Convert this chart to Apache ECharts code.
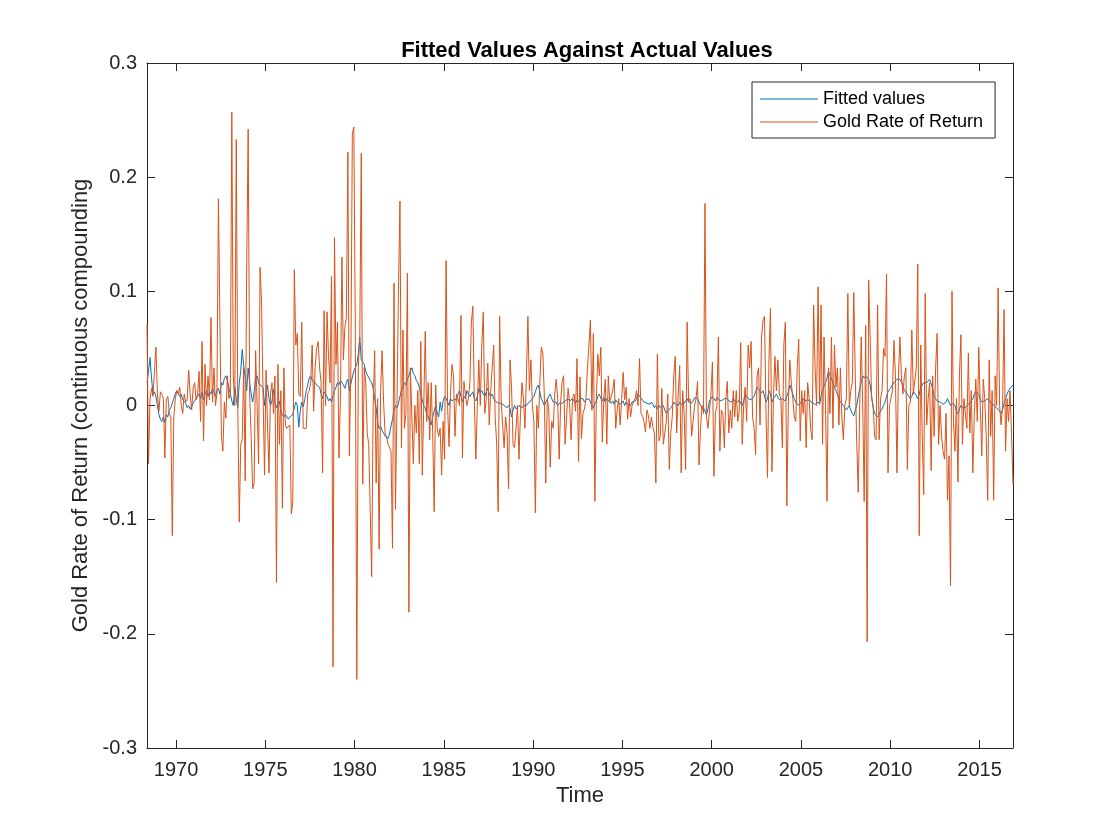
<!DOCTYPE html>
<html>
<head>
<meta charset="utf-8">
<title>Fitted Values Against Actual Values</title>
<script src="https://cdn.jsdelivr.net/npm/echarts@6/dist/echarts.min.js"></script>
<style>
  html, body { margin: 0; padding: 0; background: #fff; }
  #chart { width: 1120px; height: 840px; }
</style>
</head>
<body>
<div id="chart"></div>
<script>
// monthly series, first point at 1968 + 4.5/12, one row per 12 months
const firstMonth = 1968.375;

const goldReturns = [
  0.071, -0.051, 0.005, 0.015, 0.008, 0.030, 0.051, 0.010, -0.005, 0.012, 0.010, 0.006,
  -0.046, 0.005, 0.008, -0.007, -0.010, -0.114, -0.010, 0.005, 0.013, 0.010, 0.016, 0.000,
  -0.007, 0.010, 0.003, 0.005, 0.031, 0.010, -0.004, 0.015, 0.020, 0.005, 0.010, 0.030,
  -0.014, 0.056, -0.031, 0.036, 0.000, 0.026, 0.005, 0.077, 0.003, 0.033, 0.000, 0.010,
  0.181, 0.073, -0.027, -0.040, 0.003, -0.011, 0.026, 0.006, 0.010, 0.257, 0.026, 0.000,
  0.233, 0.000, -0.102, -0.034, -0.030, 0.033, -0.066, 0.124, 0.242, 0.010, -0.027, -0.073,
  -0.068, 0.048, 0.000, -0.051, 0.121, 0.090, 0.010, -0.061, 0.031, -0.017, -0.059, 0.010,
  0.020, -0.007, 0.026, -0.155, 0.036, -0.034, 0.013, -0.090, 0.033, -0.017, -0.020, -0.020,
  -0.017, -0.095, -0.084, 0.119, 0.053, 0.063, 0.010, 0.008, 0.073, -0.020, -0.020, -0.020,
  0.010, 0.013, 0.020, 0.053, -0.005, 0.033, 0.050, 0.056, 0.033, 0.020, -0.059, 0.083,
  0.000, 0.082, 0.043, 0.020, 0.113, -0.229, 0.147, 0.036, 0.073, -0.046, 0.006, 0.130,
  0.040, 0.069, 0.077, 0.222, -0.044, 0.033, 0.238, 0.244, 0.066, -0.240, 0.033, 0.060,
  0.221, -0.069, 0.033, 0.020, -0.024, -0.034, -0.034, -0.150, 0.000, 0.048, -0.068, 0.006,
  -0.126, 0.013, 0.048, 0.003, -0.024, -0.027, -0.034, -0.034, -0.040, -0.125, 0.107, -0.091,
  0.000, 0.100, 0.179, -0.037, 0.066, -0.020, -0.007, 0.116, -0.181, 0.033, 0.033, -0.051,
  0.000, -0.024, 0.013, -0.051, 0.056, -0.061, 0.000, 0.065, -0.014, 0.020, -0.030, 0.020,
  -0.024, -0.093, 0.018, -0.020, -0.027, -0.020, -0.061, -0.014, -0.047, 0.127, 0.000, -0.036,
  0.013, 0.036, 0.026, -0.027, 0.010, 0.006, 0.000, 0.079, -0.046, 0.021, 0.010, 0.000,
  0.006, 0.020, 0.073, 0.087, 0.003, -0.047, 0.000, 0.040, 0.000, 0.053, 0.082, -0.007,
  0.006, 0.037, -0.017, 0.013, 0.033, 0.053, -0.010, -0.034, -0.093, 0.078, 0.006, -0.017,
  -0.037, -0.010, -0.024, -0.073, 0.040, 0.016, -0.034, -0.037, -0.020, 0.000, -0.047, -0.007,
  0.020, 0.006, -0.020, 0.026, 0.078, 0.013, 0.040, 0.000, -0.014, -0.094, 0.000, -0.020,
  0.020, 0.051, 0.046, 0.010, -0.068, 0.006, -0.004, -0.054, -0.014, -0.020, 0.010, 0.023,
  0.006, -0.047, 0.003, 0.021, 0.026, -0.034, -0.010, 0.015, 0.003, -0.030, 0.006, 0.010,
  -0.005, 0.041, -0.049, 0.025, -0.029, -0.007, -0.003, 0.006, 0.033, 0.053, 0.075, -0.004,
  0.063, -0.084, 0.006, 0.045, 0.026, 0.051, -0.032, 0.006, 0.023, -0.034, 0.026, 0.003,
  0.003, 0.013, 0.023, -0.020, -0.004, 0.006, -0.017, 0.006, 0.029, 0.005, 0.016, -0.012,
  0.006, -0.010, 0.000, 0.003, 0.006, 0.013, 0.000, 0.041, -0.007, -0.009, -0.014, -0.023,
  -0.004, -0.009, -0.020, -0.010, -0.019, -0.024, -0.068, 0.045, -0.031, -0.027, 0.015, -0.034,
  -0.024, -0.014, 0.010, -0.056, -0.024, -0.010, 0.026, 0.043, -0.024, 0.010, 0.035, -0.059,
  0.013, -0.007, -0.056, 0.073, 0.003, 0.006, -0.027, -0.014, 0.000, 0.006, 0.021, -0.052,
  -0.020, 0.000, -0.007, 0.177, -0.010, -0.020, -0.020, 0.010, 0.038, -0.062, -0.007, 0.000,
  0.060, -0.040, -0.004, -0.007, -0.037, 0.006, 0.021, -0.024, -0.004, -0.020, 0.013, -0.010,
  0.013, -0.014, -0.005, 0.055, -0.034, 0.000, 0.016, -0.014, 0.053, 0.033, 0.056, -0.010,
  -0.020, -0.043, 0.026, 0.033, -0.017, 0.060, 0.075, 0.078, -0.007, -0.063, 0.040, 0.085,
  -0.058, 0.006, 0.043, 0.013, 0.040, 0.010, 0.006, -0.037, 0.053, 0.073, -0.088, 0.000,
  0.040, 0.020, 0.006, -0.010, -0.014, 0.033, 0.058, -0.031, 0.013, -0.007, 0.013, -0.037,
  0.020, 0.006, -0.020, -0.030, 0.088, 0.033, 0.000, 0.104, 0.003, 0.088, -0.034, 0.060,
  0.000, -0.084, 0.033, -0.007, 0.060, -0.020, 0.053, 0.016, 0.033, -0.017, 0.033, -0.010,
  -0.030, 0.000, 0.006, 0.098, 0.000, 0.013, 0.020, 0.099, 0.026, -0.034, -0.076, 0.000,
  0.060, 0.000, -0.084, 0.070, -0.207, 0.110, 0.060, 0.006, 0.000, -0.027, -0.030, 0.088,
  -0.030, 0.006, 0.013, 0.050, 0.043, 0.115, -0.059, 0.000, 0.000, 0.013, 0.057, 0.026,
  -0.059, 0.026, 0.060, 0.026, 0.010, 0.026, 0.033, -0.056, 0.000, 0.003, 0.066, 0.010,
  0.010, 0.033, 0.124, -0.114, 0.053, -0.027, -0.078, 0.098, -0.017, 0.006, 0.020, -0.057,
  0.026, -0.027, 0.033, 0.063, -0.034, 0.000, -0.027, -0.040, -0.047, -0.007, -0.083, -0.044,
  -0.158, 0.100, -0.014, -0.040, 0.006, -0.067, 0.026, 0.062, -0.034, 0.006, 0.006, -0.020,
  0.046, -0.024, 0.013, -0.059, -0.007, 0.023, -0.014, 0.051, 0.000, -0.044, 0.023, 0.006,
  -0.027, -0.083, 0.040, -0.027, 0.013, -0.083, 0.026, 0.000, 0.103, 0.000, -0.017, 0.000,
  0.084, -0.040, 0.006, -0.014, 0.013, -0.024, -0.069
];

const fittedValues = [
  0.020, 0.030, 0.042, 0.025, 0.010, 0.012, 0.008, 0.000, -0.008, -0.012, -0.014, -0.010,
  -0.015, -0.008, -0.010, -0.004, -0.002, 0.002, 0.006, 0.010, 0.013, 0.012, 0.008, 0.010,
  0.005, 0.004, 0.002, -0.002, 0.000, -0.003, -0.001, 0.002, 0.004, 0.006, 0.008, 0.010,
  0.006, 0.012, 0.005, 0.010, 0.013, 0.008, 0.012, 0.010, 0.015, 0.012, 0.008, 0.013,
  0.015, 0.010, 0.020, 0.018, 0.024, 0.026, 0.022, 0.016, 0.010, 0.004, 0.000, 0.016,
  0.006, -0.002, 0.020, 0.030, 0.049, 0.035, 0.025, 0.013, 0.033, 0.020, 0.010, 0.003,
  0.012, 0.024, 0.026, 0.020, 0.018, 0.019, 0.016, 0.000, 0.010, 0.018, 0.006, 0.000,
  0.004, 0.014, 0.003, -0.002, 0.002, 0.004, -0.005, -0.008, -0.010, -0.008, -0.010, -0.012,
  -0.010, -0.010, -0.008, -0.002, 0.003, 0.000, -0.019, -0.005, 0.003, -0.001, 0.005, 0.013,
  0.018, 0.024, 0.026, 0.022, 0.023, 0.020, 0.018, 0.017, 0.016, 0.010, 0.006, 0.012,
  0.013, 0.008, 0.004, 0.006, 0.003, 0.008, 0.013, 0.016, 0.020, 0.018, 0.022, 0.023,
  0.018, 0.015, 0.020, 0.023, 0.013, 0.013, 0.025, 0.030, 0.031, 0.036, 0.045, 0.060,
  0.040, 0.038, 0.036, 0.030, 0.027, 0.026, 0.022, 0.020, 0.015, 0.006, -0.002, -0.015,
  -0.020, -0.018, -0.022, -0.024, -0.027, -0.028, -0.029, -0.025, -0.018, -0.012, -0.004, 0.000,
  -0.002, 0.002, 0.008, 0.013, 0.016, 0.020, 0.018, 0.023, 0.026, 0.030, 0.033, 0.028,
  0.026, 0.022, 0.020, 0.016, 0.010, 0.005, 0.000, -0.002, -0.008, -0.010, -0.014, -0.017,
  -0.010, -0.005, 0.000, -0.006, -0.010, 0.003, -0.005, 0.004, 0.008, 0.006, 0.003, 0.000,
  0.006, 0.004, 0.003, 0.006, 0.004, 0.010, 0.013, 0.008, 0.003, 0.008, 0.006, 0.013,
  0.010, 0.008, 0.010, 0.012, 0.006, 0.004, 0.008, 0.015, 0.011, 0.013, 0.010, 0.008,
  0.012, 0.015, 0.010, 0.008, 0.010, 0.006, 0.004, 0.003, 0.002, 0.001, 0.002, 0.003,
  0.000, 0.001, -0.002, 0.000, -0.003, -0.010, -0.004, 0.000, -0.003, -0.002, 0.000, -0.001,
  -0.002, 0.000, -0.001, 0.000, 0.002, 0.003, 0.004, 0.006, 0.008, 0.012, 0.016, 0.018,
  0.012, 0.006, 0.003, 0.000, 0.003, 0.005, 0.008, 0.010, 0.006, 0.003, 0.004, 0.003,
  0.000, 0.002, 0.001, 0.002, 0.003, 0.004, 0.005, 0.006, 0.004, 0.003, 0.006, 0.004,
  0.002, 0.005, 0.003, 0.006, 0.005, 0.006, 0.003, 0.005, 0.004, 0.006, 0.003, 0.000,
  -0.002, 0.002, 0.004, 0.008, 0.010, 0.006, 0.004, 0.007, 0.003, 0.006, 0.004, 0.005,
  0.002, 0.004, 0.001, 0.005, 0.003, 0.004, 0.001, 0.002, 0.004, 0.000, 0.003, 0.001,
  0.002, 0.000, 0.003, 0.002, 0.004, 0.006, 0.010, 0.008, 0.009, 0.005, 0.003, 0.004,
  0.002, 0.003, 0.001, 0.003, 0.001, -0.002, 0.000, -0.003, 0.000, -0.002, -0.003, 0.000,
  -0.004, -0.007, -0.005, -0.006, -0.002, 0.000, 0.003, 0.001, 0.002, 0.000, 0.003, 0.001,
  0.000, 0.002, 0.004, 0.006, 0.003, 0.004, 0.002, 0.004, 0.007, 0.008, 0.006, 0.003,
  0.000, 0.000, -0.002, -0.005, -0.008, -0.003, 0.004, 0.006, 0.008, 0.006, 0.004, 0.007,
  0.005, 0.006, 0.004, 0.005, 0.006, 0.005, 0.006, 0.004, 0.005, 0.003, 0.006, 0.004,
  0.005, 0.003, 0.005, 0.002, 0.000, 0.004, 0.010, 0.008, 0.006, 0.007, 0.005, 0.006,
  0.008, 0.012, 0.016, 0.014, 0.013, 0.011, 0.013, 0.008, 0.003, 0.006, 0.013, 0.010,
  0.003, 0.006, 0.008, 0.010, 0.007, 0.005, 0.004, 0.006, 0.005, 0.004, 0.008, 0.012,
  0.018, 0.014, 0.010, 0.006, 0.003, 0.002, 0.000, 0.002, 0.004, 0.006, 0.004, 0.003,
  0.005, 0.006, 0.004, 0.002, 0.003, 0.001, 0.002, 0.003, 0.001, 0.008, 0.013, 0.017,
  0.020, 0.024, 0.030, 0.027, 0.023, 0.020, 0.016, 0.013, 0.010, 0.006, 0.003, 0.002,
  0.000, -0.002, -0.004, -0.002, 0.000, -0.004, -0.007, -0.009, -0.004, 0.000, 0.008, 0.015,
  0.020, 0.026, 0.024, 0.026, 0.025, 0.023, 0.018, 0.008, -0.002, -0.007, -0.008, -0.010,
  -0.009, -0.005, -0.003, 0.000, 0.003, 0.008, 0.012, 0.014, 0.016, 0.018, 0.020, 0.021,
  0.023, 0.022, 0.023, 0.022, 0.018, 0.013, 0.012, 0.010, 0.008, 0.006, 0.008, 0.012,
  0.013, 0.009, 0.006, 0.010, 0.016, 0.018, 0.020, 0.019, 0.020, 0.021, 0.023, 0.022,
  0.015, 0.008, 0.006, 0.004, 0.003, 0.003, 0.003, 0.001, 0.000, 0.003, 0.006, 0.003,
  0.000, 0.002, 0.003, 0.000, -0.005, -0.007, -0.003, 0.000, -0.002, -0.003, -0.002, 0.000,
  0.000, 0.002, 0.003, 0.006, 0.010, 0.012, 0.013, 0.010, 0.005, 0.003, 0.003, 0.004,
  0.005, 0.006, 0.004, 0.003, 0.002, 0.000, -0.001, -0.002, -0.003, -0.005, -0.007, -0.004,
  0.002, 0.006, 0.010, 0.013, 0.015, 0.016, 0.018
];

const yearTicks = [1970, 1975, 1980, 1985, 1990, 1995, 2000, 2005, 2010, 2015];

const axisColor = '#262626';
const lastMonth = firstMonth + (goldReturns.length - 1) / 12;

function toPairs(values) {
  return values.map((v, i) => [firstMonth + i / 12, v]);
}

const chart = echarts.init(document.getElementById('chart'), null, { renderer: 'canvas' });

const xCommon = {
  type: 'value',
  min: firstMonth,
  max: lastMonth,
  splitLine: { show: false },
  axisLine: { show: true, onZero: false, lineStyle: { color: axisColor, width: 1 } },
  axisTick: { show: true, inside: true, length: 8, customValues: yearTicks, lineStyle: { color: axisColor } }
};

const yCommon = {
  type: 'value',
  min: -0.3,
  max: 0.3,
  interval: 0.1,
  splitLine: { show: false },
  axisLine: { show: true, onZero: false, lineStyle: { color: axisColor, width: 1 } },
  axisTick: { show: true, inside: true, length: 8, lineStyle: { color: axisColor } }
};

chart.setOption({
  animation: false,
  backgroundColor: '#fff',
  textStyle: { fontFamily: 'Liberation Sans, Arial, Helvetica, sans-serif' },
  title: {
    text: 'Fitted Values Against Actual Values',
    left: 582,
    top: 35,
    textAlign: 'center',
    textStyle: { fontSize: 22, fontWeight: 'bold', color: '#000' }
  },
  legend: {
    orient: 'vertical',
    left: 752,
    top: 82,
    padding: [8, 12, 7, 8],
    itemGap: 5,
    itemWidth: 58,
    itemHeight: 1,
    icon: 'rect',
    borderColor: '#262626',
    borderWidth: 1,
    backgroundColor: '#fff',
    textStyle: { fontSize: 18, color: '#000' },
    data: ['Fitted values', 'Gold Rate of Return']
  },
  grid: {
    left: 147,
    right: 107,
    top: 63,
    bottom: 92,
    containLabel: false,
    outerBoundsMode: 'none'
  },
  xAxis: [
    Object.assign({}, xCommon, {
      position: 'bottom',
      name: 'Time',
      nameLocation: 'middle',
      nameGap: 37,
      nameTextStyle: { fontSize: 22, color: axisColor },
      axisLabel: {
        show: true, customValues: yearTicks, margin: 12,
        fontSize: 20, color: axisColor,
        formatter: v => String(Math.round(v))
      }
    }),
    Object.assign({}, xCommon, {
      position: 'top',
      axisLabel: { show: false }
    })
  ],
  yAxis: [
    Object.assign({}, yCommon, {
      position: 'left',
      name: 'Gold Rate of Return (continuous compounding',
      nameLocation: 'middle',
      nameGap: 52,
      nameTextStyle: { fontSize: 22, color: axisColor },
      axisLabel: {
        margin: 10, fontSize: 20, color: axisColor,
        formatter: v => {
          const r = Math.round(v * 10) / 10;
          return r === 0 ? '0' : String(r);
        }
      }
    }),
    Object.assign({}, yCommon, {
      position: 'right',
      axisLabel: { show: false }
    })
  ],
  series: [
    {
      name: 'Fitted values',
      type: 'line',
      data: toPairs(fittedValues),
      symbol: 'none',
      showSymbol: false,
      color: '#0072BD',
      lineStyle: { color: '#0072BD', width: 1 },
      z: 2
    },
    {
      name: 'Gold Rate of Return',
      type: 'line',
      data: toPairs(goldReturns),
      symbol: 'none',
      showSymbol: false,
      color: '#D95319',
      lineStyle: { color: '#D95319', width: 1 },
      z: 3
    }
  ]
});
</script>
</body>
</html>
